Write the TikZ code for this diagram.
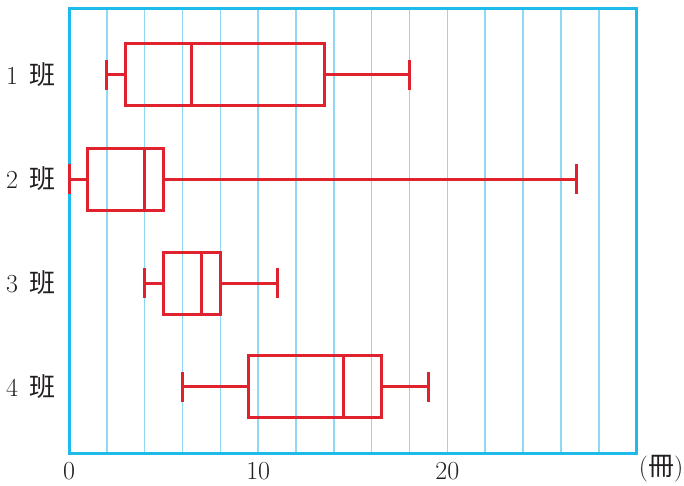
\documentclass[tikz,border=0pt]{standalone}
\usepackage{fontspec}
\newfontfamily\cjk{Noto Sans CJK JP}
\definecolor{framec}{HTML}{1EBBEA}
\definecolor{gridc}{HTML}{8ED8F6}
\definecolor{redc}{HTML}{E0222E}
\definecolor{txtc}{HTML}{231F20}
\newcommand\boxrow[6]{%
  \draw[bp] (#2,#1-15) -- (#2,#1+15);
  \draw[bp] (#2,#1) -- (#3,#1);
  \draw[bp] (#3,#1-31) rectangle (#5,#1+31);
  \draw[bp] (#4,#1-31) -- (#4,#1+31);
  \draw[bp] (#5,#1) -- (#6,#1);
  \draw[bp] (#6,#1-15) -- (#6,#1+15);
}
\begin{document}
\begin{tikzpicture}[x=1pt,y=-1pt,
  bp/.style={draw=redc,line width=3pt},
  lbl/.style={text=txtc,font=\fontsize{26}{26}\selectfont,inner sep=0pt}]
\useasboundingbox (0,0) rectangle (684,485);
\begin{scope}[xshift=69pt,x=18.92pt]
  \foreach \k in {2,4,...,28} \draw[gridc,line width=1.5pt] (\k,8) -- (\k,453.5);
  \draw[framec,line width=3pt] (0,8) rectangle (30,453.5);
  \boxrow{74.5}{2}{3}{6.5}{13.5}{18}
  \boxrow{179}{0}{1}{4}{5}{26.8}
  \boxrow{283}{4}{5}{7}{8}{11}
  \boxrow{386.5}{6}{9.5}{14.5}{16.5}{19}
  \node[lbl] (t0) at (0,471) {0};
  \node[lbl] (t10) at (10,471) {10};
  \node[lbl] (t20) at (20,471) {20};
\end{scope}
\node[lbl] (c1) at (31,75) {1\hspace{0.45em}{\cjk 班}};
\node[lbl] (c2) at (31,179) {2\hspace{0.45em}{\cjk 班}};
\node[lbl] (c3) at (31,283) {3\hspace{0.45em}{\cjk 班}};
\node[lbl] (c4) at (31,387) {4\hspace{0.45em}{\cjk 班}};
\node[lbl] (unit) at (661,469) {({\cjk 冊})};
\end{tikzpicture}
\end{document}
